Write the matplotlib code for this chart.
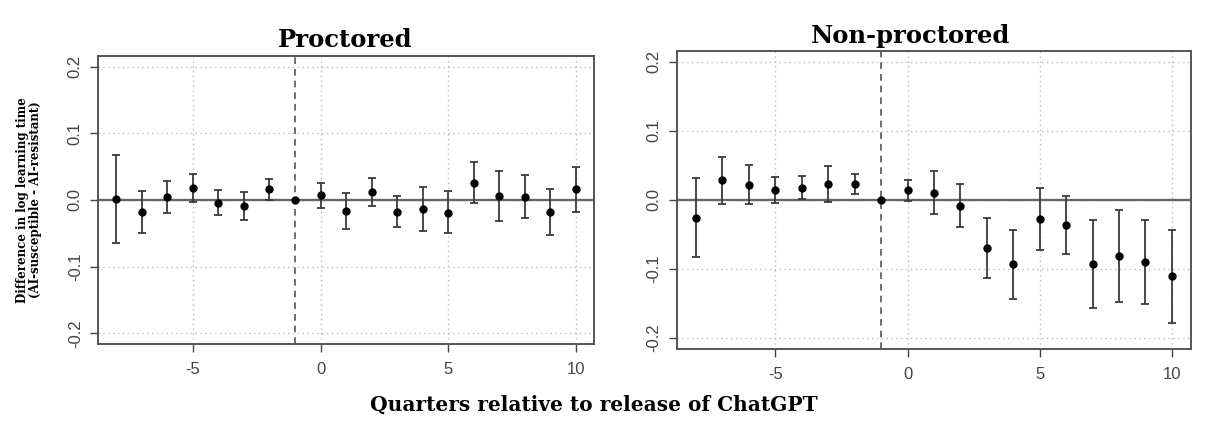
import numpy as np
import matplotlib
matplotlib.use("Agg")
import matplotlib.pyplot as plt

quarters = list(range(-8, 11))

# Proctored: estimate, upper and lower 95% bounds (reference quarter -1 = 0)
proc_est = [0.0015, -0.018, 0.005, 0.0175, -0.004, -0.0095, 0.016, 0.0,
            0.0075, -0.017, 0.0125, -0.0175, -0.0135, -0.019, 0.026, 0.0065,
            0.0045, -0.0175, 0.016]
proc_hi = [0.068, 0.014, 0.029, 0.039, 0.015, 0.0115, 0.031, 0.0,
           0.026, 0.0105, 0.0335, 0.006, 0.0195, 0.013, 0.057, 0.044,
           0.037, 0.017, 0.050]
proc_lo = [-0.064, -0.050, -0.019, -0.003, -0.023, -0.030, 0.0005, 0.0,
           -0.0115, -0.044, -0.0085, -0.041, -0.046, -0.050, -0.0045, -0.031,
           -0.027, -0.052, -0.018]

# Non-proctored
nonp_est = [-0.026, 0.0285, 0.022, 0.014, 0.017, 0.023, 0.0235, 0.0,
            0.014, 0.0105, -0.0085, -0.070, -0.093, -0.0275, -0.036, -0.093,
            -0.081, -0.0905, -0.111]
nonp_hi = [0.031, 0.0625, 0.051, 0.033, 0.034, 0.0485, 0.038, 0.0,
           0.029, 0.042, 0.023, -0.027, -0.0435, 0.0175, 0.006, -0.029,
           -0.0145, -0.029, -0.043]
nonp_lo = [-0.083, -0.006, -0.006, -0.004, 0.001, -0.0025, 0.008, 0.0,
           -0.0015, -0.020, -0.040, -0.113, -0.143, -0.072, -0.0785, -0.156,
           -0.148, -0.151, -0.179]

xticks = [-5, 0, 5, 10]
yticks = [-0.2, -0.1, 0.0, 0.1, 0.2]
ytick_labels = ["-0.2", "-0.1", "0.0", "0.1", "0.2"]

serif = ["DejaVu Serif"]
sans = ["Liberation Sans", "DejaVu Sans"]


def panel(ax, est, lo, hi):
    x = np.array(quarters)
    est = np.array(est)
    lo = np.array(lo)
    hi = np.array(hi)
    for xv in xticks:
        ax.axvline(xv, color="#bbbbbb", lw=1.0, ls=(0, (1, 2.5)), zorder=0)
    for yv in yticks:
        ax.axhline(yv, color="#bbbbbb", lw=1.0, ls=(0, (1, 2.5)), zorder=0)
    ax.axhline(0, color="#666666", lw=1.7, zorder=1)
    ax.axvline(-1, color="#555555", lw=1.2, ls=(0, (4, 3)), zorder=1)
    mask = x != -1
    ax.errorbar(x[mask], est[mask], yerr=[est[mask] - lo[mask], hi[mask] - est[mask]],
                fmt="none", ecolor="#3a3a3a", elinewidth=1.3, capsize=3,
                capthick=1.3, zorder=2)
    ax.plot(x, est, "o", color="black", ms=5, zorder=3)
    ax.set_xlim(-8.72, 10.72)
    ax.set_ylim(-0.216, 0.216)
    ax.set_xticks(xticks)
    ax.set_xticklabels([str(t) for t in xticks])
    ax.set_yticks(yticks)
    ax.set_yticklabels(ytick_labels, rotation=90, va="center")
    ax.tick_params(axis="both", direction="out", length=6, width=1.0,
                   color="#444444", labelsize=12, labelcolor="#444444")
    ax.tick_params(axis="x", pad=7)
    ax.tick_params(axis="y", pad=5)
    for lab in ax.get_xticklabels() + ax.get_yticklabels():
        lab.set_family(sans)
    for sp in ax.spines.values():
        sp.set_color("#555555")
        sp.set_linewidth(1.4)


fig = plt.figure(figsize=(12.18, 4.34), dpi=100)
ax1 = fig.add_axes([0.0805, 0.2074, 0.4072, 0.6636])
ax2 = fig.add_axes([0.5558, 0.1959, 0.4220, 0.6873])

panel(ax1, proc_est, proc_lo, proc_hi)
panel(ax2, nonp_est, nonp_lo, nonp_hi)

fig.text(345 / 1218, 1 - 40 / 434, "Proctored", ha="center", va="center",
         family=serif, fontweight="bold", fontsize=17.5)
fig.text(911 / 1218, 1 - 36 / 434, "Non-proctored", ha="center", va="center",
         family=serif, fontweight="bold", fontsize=17.5)
fig.text(594 / 1218, 1 - 405 / 434, "Quarters relative to release of ChatGPT",
         ha="center", va="center", family=serif, fontweight="bold", fontsize=14.5)
fig.text(29 / 1218, 1 - 200 / 434,
         "Difference in log learning time\n(AI-susceptible - AI-resistant)",
         ha="center", va="center", rotation=90, family=serif,
         fontweight="bold", fontsize=8.5, linespacing=1.0)

fig.savefig("out.png", dpi=100)
